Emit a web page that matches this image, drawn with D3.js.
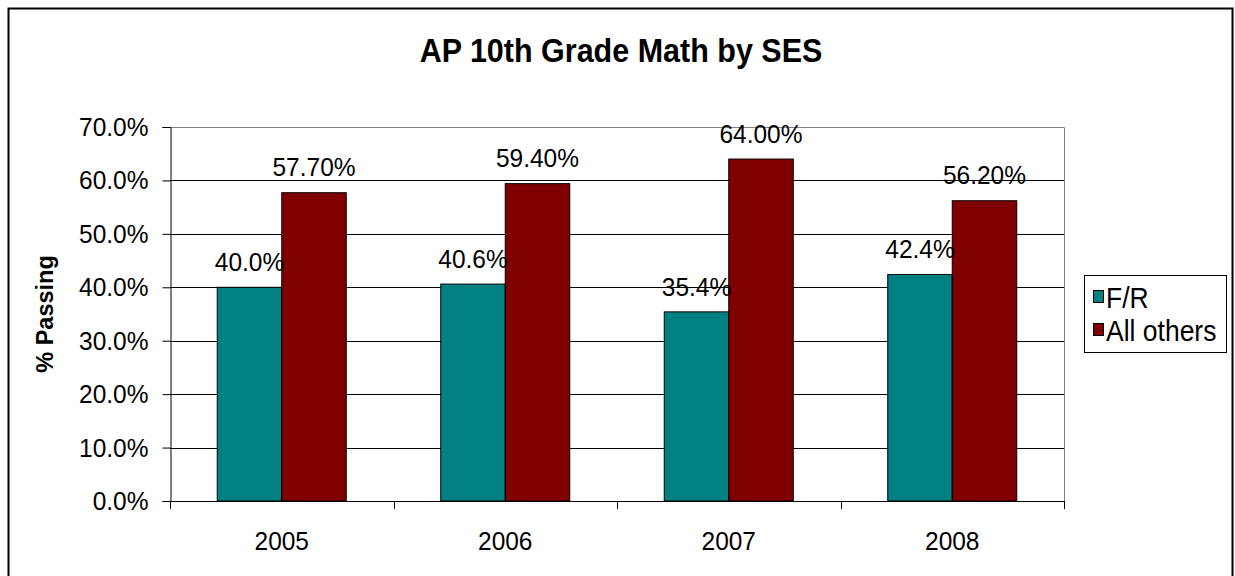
<!DOCTYPE html>
<html>
<head>
<meta charset="utf-8">
<script src="https://cdn.jsdelivr.net/npm/d3@7"></script>
<style>
  html, body { margin: 0; padding: 0; background: #fff; }
  svg text { font-family: "Liberation Sans", Arial, sans-serif; fill: #000; }
  /* slightly tall lettering */
  svg text:not(.vlabel) { transform-box: fill-box; transform-origin: 50% 50%; transform: scaleY(1.08); }
</style>
</head>
<body>
<svg id="chart" width="1235" height="576"></svg>
<script>
// Chart data
const years = ["2005", "2006", "2007", "2008"];
const seriesNames = ["F/R", "All others"];
const frValues = [0.400, 0.406, 0.354, 0.424];
const othersValues = [0.577, 0.594, 0.640, 0.562];
const seriesColors = ["#008080", "#800000"];
const labelFormats = [".1%", ".2%"];
const yTicks = [0, 0.1, 0.2, 0.3, 0.4, 0.5, 0.6, 0.7];

const series = [frValues, othersValues];

const svg = d3.select("#chart");

// Outer frame
svg.append("rect")
  .attr("x", 8.5).attr("y", 8.5)
  .attr("width", 1224).attr("height", 600)
  .attr("fill", "#fff").attr("stroke", "#000").attr("stroke-width", 2);

// Plot area
const plot = { left: 170, right: 1064, top: 127, bottom: 501 };

const x = d3.scaleBand().domain(years).range([plot.left, plot.right]).padding(0);
const y = d3.scaleLinear().domain([0, 0.7]).range([plot.bottom, plot.top]);

const barW = x.bandwidth() * 0.2886;
const x1 = d3.scaleBand().domain(d3.range(series.length)).range([0, barW * series.length]);

// Horizontal gridlines
svg.append("g").selectAll("line")
  .data(yTicks.slice(1, -1))
  .join("line")
  .attr("x1", plot.left).attr("x2", plot.right)
  .attr("y1", d => Math.round(y(d)) + 0.5).attr("y2", d => Math.round(y(d)) + 0.5)
  .attr("stroke", "#000").attr("stroke-width", 1);

// Plot area border (top and right)
svg.append("path")
  .attr("d", `M${plot.left},${Math.round(plot.top) + 0.5}H${plot.right + 0.5}V${plot.bottom}`)
  .attr("fill", "none").attr("stroke", "#808080").attr("stroke-width", 1);

// Bars
series.forEach((vals, si) => {
  svg.append("g").selectAll("rect")
    .data(vals)
    .join("rect")
    .attr("x", (d, i) => x(years[i]) + x.bandwidth() / 2 - barW + x1(si))
    .attr("y", d => y(d))
    .attr("width", x1.bandwidth())
    .attr("height", d => plot.bottom - y(d))
    .attr("fill", seriesColors[si])
    .attr("stroke", "#000").attr("stroke-width", 1);
});

// Value labels
series.forEach((vals, si) => {
  const fmt = d3.format(labelFormats[si]);
  svg.append("g").selectAll("text")
    .data(vals)
    .join("text")
    .attr("x", (d, i) => x(years[i]) + x.bandwidth() / 2 - barW + x1(si) + x1.bandwidth() / 2)
    .attr("y", d => y(d) - 17)
    .attr("text-anchor", "middle")
    .attr("font-size", 24.5)
    .text(d => fmt(d));
});

// Y axis
const yAxis = svg.append("g")
  .attr("transform", `translate(${plot.left + 0.5},0)`)
  .call(d3.axisLeft(y).tickValues(yTicks).tickFormat(d3.format(".1%")).tickSize(8).tickPadding(14));
yAxis.select(".domain").attr("stroke", "#000");
yAxis.selectAll(".tick line").attr("stroke", "#000");
yAxis.selectAll(".tick text")
  .attr("font-size", 24.5)
  .attr("font-family", "'Liberation Sans', Arial, sans-serif")
  .attr("fill", "#000");

// X axis baseline and category separators
svg.append("line")
  .attr("x1", plot.left).attr("x2", plot.right)
  .attr("y1", plot.bottom + 0.5).attr("y2", plot.bottom + 0.5)
  .attr("stroke", "#000");
const bounds = years.map(d => x(d)).concat([x.range()[1]]);
svg.append("g").selectAll("line")
  .data(bounds)
  .join("line")
  .attr("x1", d => Math.round(d) + 0.5).attr("x2", d => Math.round(d) + 0.5)
  .attr("y1", plot.bottom).attr("y2", plot.bottom + 8)
  .attr("stroke", "#000");
const xAxis = svg.append("g")
  .attr("transform", `translate(0,${plot.bottom})`)
  .call(d3.axisBottom(x).tickSize(0).tickPadding(31));
xAxis.select(".domain").remove();
xAxis.selectAll(".tick text")
  .attr("font-size", 24.5)
  .attr("font-family", "'Liberation Sans', Arial, sans-serif")
  .attr("fill", "#000");

// Title
svg.append("text")
  .attr("x", 621).attr("y", 61)
  .attr("text-anchor", "middle")
  .attr("font-size", 30.5)
  .attr("font-weight", "bold")
  .text("AP 10th Grade Math by SES");

// Y axis title
svg.append("text")
  .attr("class", "vlabel")
  .attr("transform", `translate(53,${(plot.top + plot.bottom) / 2}) rotate(-90)`)
  .attr("text-anchor", "middle")
  .attr("font-size", 23.5)
  .attr("font-weight", "bold")
  .text("% Passing");

// Legend
const legend = svg.append("g");
legend.append("rect")
  .attr("x", 1084.5).attr("y", 275.5)
  .attr("width", 142).attr("height", 77)
  .attr("fill", "#fff").attr("stroke", "#000");
seriesNames.forEach((name, i) => {
  const cy = 297 + i * 33;
  legend.append("rect")
    .attr("x", 1093.5).attr("y", cy - 6.5)
    .attr("width", 10).attr("height", 12)
    .attr("fill", seriesColors[i]).attr("stroke", "#000");
  legend.append("text")
    .attr("x", 1106).attr("y", cy + 10)
    .attr("font-size", 26.5)
    .text(name);
});
</script>
</body>
</html>
